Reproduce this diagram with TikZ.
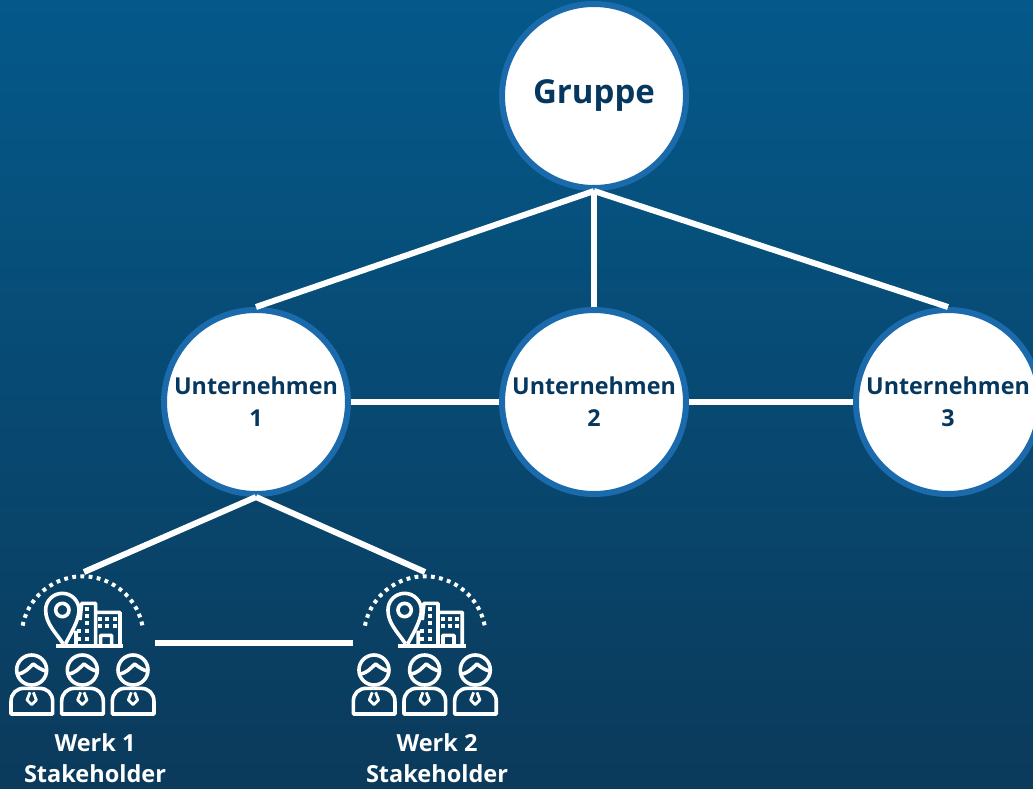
\documentclass[tikz,border=0pt]{standalone}
\usepackage{fontspec}
\setmainfont{Open Sans}
\definecolor{bgtop}{HTML}{04598A}
\definecolor{bgbot}{HTML}{0B3A5B}
\definecolor{ringblue}{HTML}{1A6AAC}
\definecolor{labelblue}{HTML}{06375E}
\pgfdeclareverticalshading{bgfade}{100bp}{color(0bp)=(bgbot); color(25bp)=(bgbot); color(75bp)=(bgtop); color(100bp)=(bgtop)}
\tikzset{
  bignode/.style={circle,draw=ringblue,fill=white,line width=6pt,minimum size=184pt,inner sep=0pt,
    text=labelblue,font=\bfseries\fontsize{23.3}{32}\selectfont,align=center},
  link/.style={draw=white,line width=6pt},
  icon/.style={draw=white,line width=3.6pt,line join=round},
  dots/.style={draw=white,line width=4pt,dash pattern=on 3.8pt off 4.4pt},
  caption/.style={text=white,font=\bfseries\fontsize{23.5}{31}\selectfont,align=center}
}
\newcommand{\firmlabel}[1]{\raisebox{-2pt}{Unternehmen}\\\raisebox{-2pt}{#1}}
% one plant with its stakeholders, in units of a third of a pixel
\newcommand{\planticon}{%
  \path[dots] (68,197) arc[start angle=-169,end angle=-11,radius=183];
  \path[icon] (190,252) .. controls (165,215) and (137,190) .. (137,150)
    arc[start angle=180,end angle=360,radius=50] .. controls (237,175) and (222,205) .. (196,252);
  \path[icon] (187,150) circle[radius=20];
  \path[icon] (228,212) -- (228,258) (240,180) -- (245,130) -- (287,130) -- (287,258)
    (287,157) -- (360,157) -- (360,258) (302,258) -- (302,226) -- (335,226) -- (335,258);
  \path[draw=white,line width=4pt] (168,259) -- (370,259);
  \foreach \wx/\wy in {262/146,262/168,262/190,238/214,262/214,238/237,262/237,
      301/178,322/178,345/178,301/199,322/199,345/199}
    \path[fill=white] (\wx-6,\wy-6) rectangle (\wx+6,\wy+6);
  \foreach \px in {0,152,304} {
    \begin{scope}[xshift=\px*0.3333pt]
      \path[icon] (95,330) circle[radius=45];
      \path[icon] (52,342) .. controls (75,340) and (85,325) .. (100,312) .. controls (112,322) and (125,330) .. (140,334);
      \path[icon] (33,462) -- (33,425) .. controls (33,400) and (50,385) .. (72,385) -- (118,385)
        .. controls (142,385) and (158,400) .. (158,425) -- (158,462) -- cycle;
      \path[icon,line width=2.8pt] (90,397) -- (81,420) -- (95,434) -- (109,420) -- (100,397);
    \end{scope}
  }
}
\begin{document}
\begin{tikzpicture}[x=1pt,y=-1pt]
    \useasboundingbox (0,0) rectangle (1033,788);
    \clip (0,0) rectangle (1033,788);
    \path[shading=bgfade] (0,0) rectangle (1033,788);
    % connectors go underneath the circles
    \node[bignode,font=\bfseries\fontsize{33}{40}\selectfont] (Gruppe) at (594,96) {\raisebox{5pt}{Gruppe}};
    \node[bignode] (Firm1) at (256,402) {\firmlabel{1}};
    \node[bignode] (Firm2) at (594,402) {\firmlabel{2}};
    \node[bignode] (Firm3) at (948,402) {\firmlabel{3}};
    \coordinate (Plant1) at (84,572);
    \coordinate (Plant2) at (425,572);
    \coordinate (Gap1) at (155,643);
    \coordinate (Gap2) at (353,643);
    \path[link] (Gruppe.south) -- (Firm1.north);
    \path[link] (Gruppe.south) -- (Firm2.north);
    \path[link] (Gruppe.south) -- (Firm3.north);
    \path[link] (Firm1) -- (Firm2);
    \path[link] (Firm2) -- (Firm3);
    \path[link] (Firm1.south) -- (Plant1);
    \path[link] (Firm1.south) -- (Plant2);
    \path[link] (Gap1) -- (Gap2);
    \begin{scope}[shift={(0,560)},x=0.3333pt,y=-0.3333pt]
      \planticon
    \end{scope}
    \begin{scope}[shift={(342.3,560)},x=0.3333pt,y=-0.3333pt]
      \planticon
    \end{scope}
    \node[caption] (Label1) at (95,758.5) {Werk 1\\Stakeholder};
    \node[caption] (Label2) at (437,758.5) {Werk 2\\Stakeholder};
  \end{tikzpicture}
\end{document}
